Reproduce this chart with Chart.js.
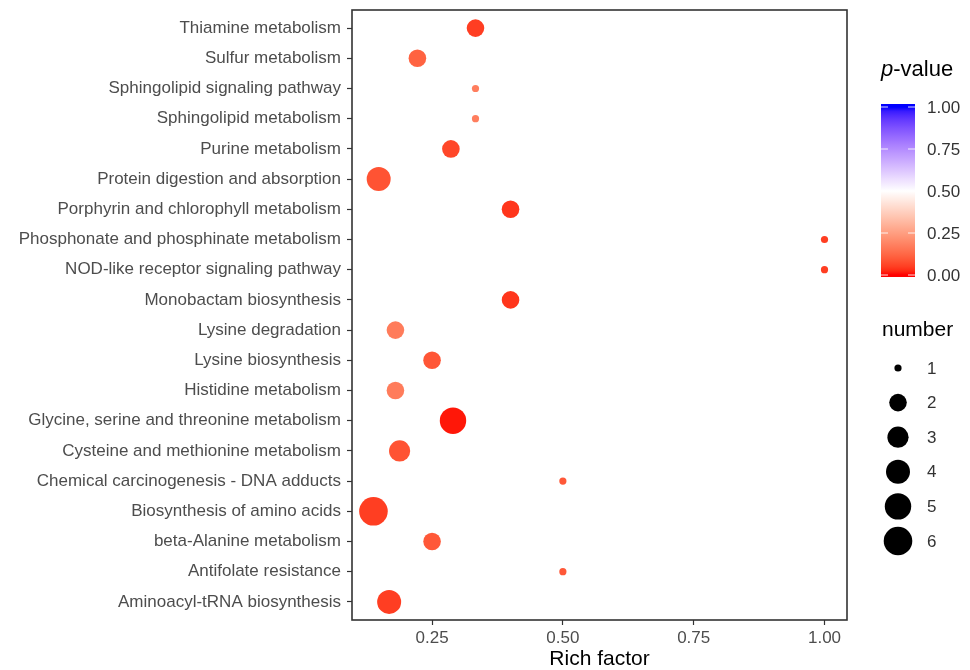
<!DOCTYPE html>
<html>
<head>
<meta charset="utf-8">
<script src="https://cdn.jsdelivr.net/npm/chart.js@4.4.1/dist/chart.umd.min.js"></script>
<style>
    html, body { margin: 0; padding: 0; background: #fff; }
</style>
</head>
<body>
<canvas id="richChart" width="970" height="670"></canvas>
<script>
// Pathways, from top to bottom of the plot
const pathways = [
    'Thiamine metabolism',
    'Sulfur metabolism',
    'Sphingolipid signaling pathway',
    'Sphingolipid metabolism',
    'Purine metabolism',
    'Protein digestion and absorption',
    'Porphyrin and chlorophyll metabolism',
    'Phosphonate and phosphinate metabolism',
    'NOD-like receptor signaling pathway',
    'Monobactam biosynthesis',
    'Lysine degradation',
    'Lysine biosynthesis',
    'Histidine metabolism',
    'Glycine, serine and threonine metabolism',
    'Cysteine and methionine metabolism',
    'Chemical carcinogenesis - DNA adducts',
    'Biosynthesis of amino acids',
    'beta-Alanine metabolism',
    'Antifolate resistance',
    'Aminoacyl-tRNA biosynthesis'
];
const richFactor = [0.333, 0.222, 0.333, 0.333, 0.286, 0.148, 0.400, 1.000, 1.000, 0.400,
                    0.180, 0.250, 0.180, 0.290, 0.188, 0.500, 0.138, 0.250, 0.500, 0.168];
const geneNumber = [2, 2, 1, 1, 2, 4, 2, 1, 1, 2, 2, 2, 2, 5, 3, 1, 6, 2, 1, 4];
const pValues = [0.05, 0.115, 0.175, 0.175, 0.065, 0.085, 0.04, 0.05, 0.05, 0.04,
                 0.17, 0.09, 0.17, 0.01, 0.085, 0.095, 0.05, 0.095, 0.095, 0.05];

const xTicks = [0.25, 0.50, 0.75, 1.00];
const colorbarTicks = [0, 0.25, 0.50, 0.75, 1.00];
const sizeLegend = [1, 2, 3, 4, 5, 6];

// radius (px) for each gene number 1..6
const sizeRadius = [3.6, 8.8, 10.6, 12.0, 13.2, 14.3];

const FONT = "'Liberation Sans', Arial, sans-serif";

// --- colour scale: red -> white -> blue, interpolated in Lab like ggplot ---
function toLinear(c) {
    c /= 255;
    return c <= 0.04045 ? c / 12.92 : Math.pow((c + 0.055) / 1.055, 2.4);
}
function fromLinear(c) {
    c = c <= 0.0031308 ? 12.92 * c : 1.055 * Math.pow(c, 1 / 2.4) - 0.055;
    return Math.round(Math.max(0, Math.min(1, c)) * 255);
}
function rgbToLab(rgb) {
    const r = toLinear(rgb[0]), g = toLinear(rgb[1]), b = toLinear(rgb[2]);
    let x = (0.4124 * r + 0.3576 * g + 0.1805 * b) / 0.95047;
    let y = (0.2126 * r + 0.7152 * g + 0.0722 * b);
    let z = (0.0193 * r + 0.1192 * g + 0.9505 * b) / 1.08883;
    const f = t => t > 0.008856 ? Math.cbrt(t) : 7.787 * t + 16 / 116;
    x = f(x); y = f(y); z = f(z);
    return [116 * y - 16, 500 * (x - y), 200 * (y - z)];
}
function labToRgb(lab) {
    const fy = (lab[0] + 16) / 116;
    const fx = fy + lab[1] / 500;
    const fz = fy - lab[2] / 200;
    const inv = t => t * t * t > 0.008856 ? t * t * t : (t - 16 / 116) / 7.787;
    const x = inv(fx) * 0.95047, y = inv(fy), z = inv(fz) * 1.08883;
    const r = 3.2406 * x - 1.5372 * y - 0.4986 * z;
    const g = -0.9689 * x + 1.8758 * y + 0.0415 * z;
    const b = 0.0557 * x - 0.2040 * y + 1.0570 * z;
    return [fromLinear(r), fromLinear(g), fromLinear(b)];
}
const labLow = rgbToLab([255, 0, 0]);
const labMid = rgbToLab([255, 255, 255]);
const labHigh = rgbToLab([0, 0, 255]);

function pColor(p) {
    let a, b, t;
    if (p <= 0.5) { a = labLow; b = labMid; t = p / 0.5; }
    else { a = labMid; b = labHigh; t = (p - 0.5) / 0.5; }
    const lab = [0, 1, 2].map(i => a[i] + (b[i] - a[i]) * t);
    const rgb = labToRgb(lab);
    return 'rgb(' + rgb.join(',') + ')';
}

// --- data points ---
const points = pathways.map((name, i) => ({
    x: richFactor[i],
    y: i,
    r: sizeRadius[geneNumber[i] - 1]
}));
const pointColors = pValues.map(pColor);

// Khung viền + chú thích bên phải
const panelAndLegends = {
    id: 'panelAndLegends',
    afterDraw(chart) {
        const ctx = chart.ctx;
        const area = chart.chartArea;
        ctx.save();

        // panel border
        ctx.strokeStyle = '#333333';
        ctx.lineWidth = 1.6;
        ctx.strokeRect(area.left, area.top, area.right - area.left, area.bottom - area.top);

        // p-value title
        ctx.fillStyle = '#000';
        ctx.textBaseline = 'middle';
        ctx.textAlign = 'left';
        ctx.font = 'italic 22px ' + FONT;
        ctx.fillText('p', 881, 70);
        const pw = ctx.measureText('p').width;
        ctx.font = '22px ' + FONT;
        ctx.fillText('-value', 881 + pw, 70);

        // colour bar
        const barX = 881, barW = 34, barTop = 104, barBottom = 277;
        const vTop = 107, vBottom = 275;
        const grad = ctx.createLinearGradient(0, vBottom, 0, vTop);
        for (let k = 0; k <= 40; k++) {
            grad.addColorStop(k / 40, pColor(k / 40));
        }
        ctx.fillStyle = grad;
        ctx.fillRect(barX, barTop, barW, barBottom - barTop);

        ctx.font = '17px ' + FONT;
        ctx.fillStyle = '#333333';
        colorbarTicks.forEach(v => {
            const y = vBottom - v * (vBottom - vTop);
            ctx.strokeStyle = 'rgba(255,255,255,0.85)';
            ctx.lineWidth = 1;
            ctx.beginPath();
            ctx.moveTo(barX, y); ctx.lineTo(barX + 7, y);
            ctx.moveTo(barX + barW - 7, y); ctx.lineTo(barX + barW, y);
            ctx.stroke();
            ctx.fillText(v.toFixed(2), 927, y + 1);
        });

        // number title
        ctx.fillStyle = '#000';
        ctx.font = '21px ' + FONT;
        ctx.fillText('number', 882, 330);

        // size legend
        ctx.font = '17px ' + FONT;
        sizeLegend.forEach((n, i) => {
            const cy = 368 + i * 34.6;
            ctx.fillStyle = '#000';
            ctx.beginPath();
            ctx.arc(898, cy, sizeRadius[n - 1], 0, Math.PI * 2);
            ctx.fill();
            ctx.fillStyle = '#333333';
            ctx.fillText(String(n), 927, cy + 1);
        });

        ctx.restore();
    }
};

const ctx = document.getElementById('richChart').getContext('2d');
const richChart = new Chart(ctx, {
    type: 'bubble',
    data: {
        datasets: [{
            label: 'Pathways',
            data: points,
            backgroundColor: pointColors,
            borderColor: pointColors,
            borderWidth: 0
        }]
    },
    options: {
        responsive: false,
        animation: false,
        layout: {
            autoPadding: false,
            padding: { top: 10, right: 123, bottom: 0, left: 0 }
        },
        scales: {
            x: {
                type: 'linear',
                min: 0.097,
                max: 1.043,
                afterBuildTicks: scale => {
                    scale.ticks = xTicks.map(v => ({ value: v }));
                },
                afterFit: scale => {
                    scale.height = 50;
                    scale.paddingLeft = 0;
                    scale.paddingRight = 0;
                },
                ticks: {
                    padding: 3,
                    color: '#4d4d4d',
                    font: { family: FONT, size: 17 },
                    callback: v => Number(v).toFixed(2)
                },
                grid: {
                    drawOnChartArea: false,
                    drawTicks: true,
                    tickLength: 5,
                    tickColor: '#333333',
                    tickWidth: 1.2
                },
                border: { display: false },
                title: {
                    display: true,
                    text: 'Rich factor',
                    color: '#000',
                    font: { family: FONT, size: 21, lineHeight: 1 },
                    padding: { top: 0, bottom: 0 }
                }
            },
            y: {
                type: 'linear',
                reverse: true,
                min: -0.6,
                max: pathways.length - 0.4,
                afterBuildTicks: scale => {
                    scale.ticks = pathways.map((p, i) => ({ value: i }));
                },
                afterFit: scale => {
                    scale.width = 352;
                    scale.paddingTop = 0;
                    scale.paddingBottom = 0;
                },
                ticks: {
                    padding: 6,
                    color: '#4d4d4d',
                    autoSkip: false,
                    font: { family: FONT, size: 17 },
                    callback: v => pathways[v]
                },
                grid: {
                    drawOnChartArea: false,
                    drawTicks: true,
                    tickLength: 5,
                    tickColor: '#333333',
                    tickWidth: 1.2
                },
                border: { display: false }
            }
        },
        plugins: {
            legend: { display: false },
            tooltip: { enabled: false }
        }
    },
    plugins: [panelAndLegends]
});
</script>
</body>
</html>
